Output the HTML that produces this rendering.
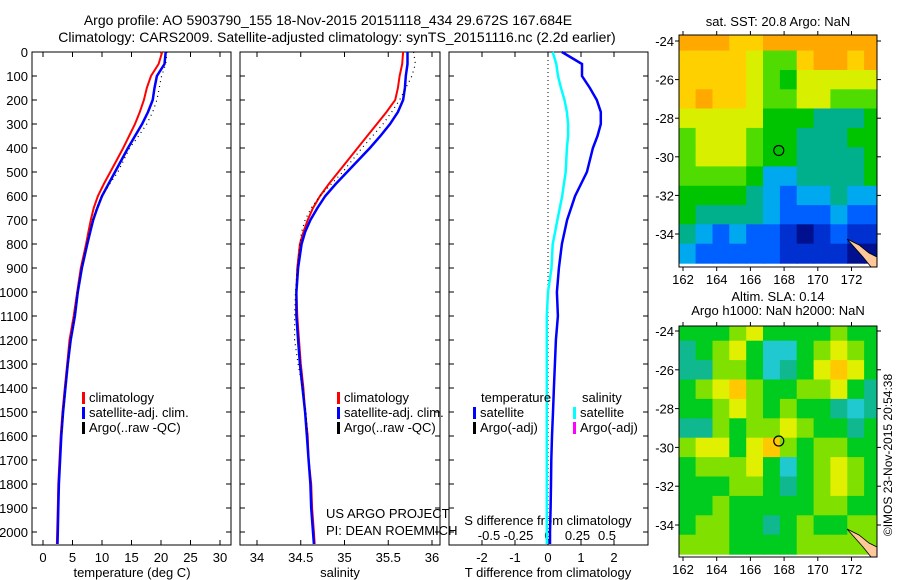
<!DOCTYPE html>
<html><head><meta charset="utf-8"><style>
body{margin:0;background:#fff;}
svg{display:block;font-family:"Liberation Sans",sans-serif;}
</style></head><body>
<svg id="fig" width="900" height="580" viewBox="0 0 900 580" xmlns="http://www.w3.org/2000/svg">
<rect width="900" height="580" fill="#fff"/>
<text x="328" y="25" font-size="14" text-anchor="middle">Argo profile: AO 5903790_155 18-Nov-2015 20151118_434 29.672S 167.684E</text>
<text x="337" y="42" font-size="14" text-anchor="middle">Climatology: CARS2009. Satellite-adjusted climatology: synTS_20151116.nc (2.2d earlier)</text>
<g id="g"></g>
</svg>
<script>
// ---- data ----
const depths=[0,50,100,150,200,250,300,350,400,450,500,550,600,650,700,750,800,900,1000,1100,1200,1300,1400,1500,1600,1700,1800,1900,2000,2050];
const tempClim=[20.2,19.6,18.3,17.6,17.1,16.4,15.6,14.6,13.6,12.5,11.4,10.3,9.3,8.6,8.1,7.7,7.3,6.4,5.8,5.2,4.5,4.1,3.7,3.3,3.0,2.8,2.6,2.5,2.4,2.35];
const tempSat=[20.8,20.6,19.3,18.9,18.6,17.8,16.8,15.6,14.4,13.3,12.2,11.1,10.0,9.2,8.5,8.0,7.5,6.6,5.9,5.4,4.7,4.2,3.8,3.4,3.1,2.9,2.7,2.6,2.5,2.45];
const argoDepths=[0,50,100,150,200,250,300,350,400,450,500,550,600,650,700,750,800,900,1000,1100,1200,1300,1400,1500,1600];
const tempArgo=[21.0,20.8,20.1,19.7,19.3,18.6,17.6,16.2,14.7,13.7,12.7,11.3,10.0,9.1,8.4,7.9,7.4,6.5,5.9,5.3,4.7,4.2,3.8,3.4,3.1];
const salClim=[35.67,35.66,35.63,35.61,35.58,35.48,35.37,35.26,35.15,35.04,34.93,34.82,34.72,34.64,34.58,34.53,34.49,34.46,34.45,34.46,34.48,34.50,34.53,34.55,34.58,34.59,34.62,34.63,34.65,34.66];
const salSat=[35.72,35.72,35.70,35.69,35.67,35.61,35.52,35.41,35.29,35.16,35.03,34.90,34.78,34.69,34.61,34.55,34.51,34.47,34.45,34.45,34.47,34.49,34.52,34.55,34.57,34.59,34.61,34.62,34.64,34.65];
const salArgo=[35.79,35.81,35.77,35.70,35.63,35.54,35.44,35.32,35.20,35.09,34.98,34.85,34.72,34.62,34.55,34.51,34.49,34.46,34.44,34.43,34.43,34.47,34.52,34.56,34.58];
const tDiff=[0.42,1.03,1.03,1.27,1.48,1.6,1.6,1.5,1.36,1.27,1.18,1.0,0.82,0.7,0.58,0.5,0.42,0.33,0.27,0.3,0.24,0.21,0.18,0.15,0.12,0.1,0.09,0.08,0.06,0.06];
const sDiff=[0.04,0.07,0.085,0.11,0.14,0.16,0.17,0.17,0.16,0.155,0.15,0.135,0.12,0.1,0.08,0.06,0.04,0.03,0.0,-0.01,-0.01,-0.01,-0.01,-0.01,-0.01,-0.01,-0.01,-0.01,-0.01,-0.01];
const depthTicks=[0,100,200,300,400,500,600,700,800,900,1000,1100,1200,1300,1400,1500,1600,1700,1800,1900,2000];
const tempTicks=[0,5,10,15,20,25,30];
const salTicks=[34,34.5,35,35.5,36];
const salTickLabels=["34","34.5","35","35.5","36"];
const tdTicks=[-2,-1,0,1,2];
const sdTicks=[-0.5,-0.25,0,0.25,0.5];
const sdTickLabels=["-0.5","-0.25","0","0.25","0.5"];
const lonTicks=[162,164,166,168,170,172];
const latTicks=[-24,-26,-28,-30,-32,-34];
const sstGrid=[
"999889999999A",
"8888766899899",
"8888765777777",
"8988766776666",
"7777755544455",
"6777655444555",
"6777655444455",
"6666533444455",
"5555432334333",
"5444432223222",
"4323221012111",
"3222221111000"];
const slaGrid=[
"5556755556555",
"4567533567655",
"4466534578755",
"5678655667544",
"5567656554344",
"4465667655455",
"6775786566555",
"5666753567655",
"5556654567655",
"5565555566555",
"5665545655666",
"6665555666666"];
const argoLon=167.684, argoLat=-29.672;

// ---- helpers ----
const NS="http://www.w3.org/2000/svg";
const G=document.getElementById('g');
function mk(t,a,p){const e=document.createElementNS(NS,t);for(const k in a)e.setAttribute(k,a[k]);(p||G).appendChild(e);return e;}
const yD=d=>52+d*0.24;
const panels=[
 {x0:32,x1:231,f:v=>43+v*5.9,name:'temperature'},
 {x0:240,x1:440,f:v=>257+(v-34)*87.5,name:'salinity'},
 {x0:449,x1:648,f:v=>548+v*33,name:'tdiff'}
];
const sdX=v=>548+v*118;
panels.forEach((p,i)=>{
  const r=mk('rect',{x:p.x0,y:52,width:p.x1-p.x0,height:493,fill:'none',stroke:'#000','stroke-width':1});
  
  
  depthTicks.forEach(d=>{
    mk('line',{x1:p.x0,x2:p.x0+5,y1:yD(d),y2:yD(d),stroke:'#000'});
    mk('line',{x1:p.x1,x2:p.x1-5,y1:yD(d),y2:yD(d),stroke:'#000'});
  });
});
depthTicks.forEach(d=>{
  const t=mk('text',{x:28,y:yD(d)+5,'font-size':13,'text-anchor':'end'});
  t.textContent=d;
  
  
});
function xticks(vals,labels,f,yLab,top){
  vals.forEach((v,i)=>{
    const x=f(v);
    mk('line',{x1:x,x2:x,y1:545,y2:540,stroke:'#000'});
    if(top) mk('line',{x1:x,x2:x,y1:52,y2:57,stroke:'#000'});
    const t=mk('text',{x:x,y:yLab,'font-size':13,'text-anchor':'middle'});
    t.textContent=labels[i];
    
    
  });
}
xticks(tempTicks,tempTicks.map(String),panels[0].f,562,true);
xticks(salTicks,salTickLabels,panels[1].f,562,true);
xticks(tdTicks,tdTicks.map(String),panels[2].f,562,true);
sdTicks.forEach((v,i)=>{
  const t=mk('text',{x:sdX(v),y:540,'font-size':13,'text-anchor':'middle'});
  t.textContent=sdTickLabels[i];
  
  
});
function lab(txt,x,y,name,anchor){const t=mk('text',{x:x,y:y,'font-size':13,'text-anchor':anchor||'middle'});t.textContent=txt;return t;}
lab('temperature (deg C)',132,577,'temperature-axis-title');
lab('salinity',340,577,'salinity-axis-title');
lab('T difference from climatology',548,577,'t-diff-axis-title');
lab('S difference from climatology',548,525,'s-diff-axis-title');
lab('US ARGO PROJECT',326,518,'project-label','start');
lab('PI: DEAN ROEMMICH',326,535,'pi-label','start');

function line(xs,ds,f,col,w,name,dash){
  const pts=xs.map((v,i)=>f(v).toFixed(1)+','+yD(ds[i]).toFixed(1)).join(' ');
  const a={points:pts,fill:'none',stroke:col,'stroke-width':w};
  if(dash)a['stroke-dasharray']=dash;
  const e=mk('polyline',a);
  
  
}
const RED='#f00',BLUE='#0000ff',CY='#00ffff';
line(tempClim,depths,panels[0].f,RED,2,'temp-climatology-line');
line(tempSat,depths,panels[0].f,BLUE,2.5,'temp-satellite-line');
line(tempArgo,argoDepths,panels[0].f,'#000',1.2,'temp-argo-line','1 4');
line(salClim,depths,panels[1].f,RED,2,'sal-climatology-line');
line(salSat,depths,panels[1].f,BLUE,2.5,'sal-satellite-line');
line(salArgo,argoDepths,panels[1].f,'#000',1.2,'sal-argo-line','1 4');
mk('line',{x1:548,x2:548,y1:52,y2:545,stroke:'#000','stroke-dasharray':'1 3'});
line(sDiff,depths,sdX,CY,2.5,'s-diff-satellite-line');
line(tDiff,depths,panels[2].f,BLUE,2.5,'t-diff-satellite-line');

function legend(x,y,items,name){
  items.forEach((it,i)=>{
    const yy=y+i*15;
    mk('rect',{x:x,y:yy-10,width:3,height:12,fill:it[1]});
    lab(it[0],x+7,yy,name,'start');
  });
}
legend(82,402,[['climatology',RED],['satellite-adj. clim.',BLUE],['Argo(..raw -QC)','#000']],'temp-legend-entry');
legend(337,402,[['climatology',RED],['satellite-adj. clim.',BLUE],['Argo(..raw -QC)','#000']],'sal-legend-entry');
lab('temperature',481,402,'t-legend-header','start');
lab('salinity',582,402,'s-legend-header','start');
legend(473,417,[['satellite',BLUE],['Argo(-adj)','#000']],'t-diff-legend-entry');
legend(573,417,[['satellite',CY],['Argo(-adj)','#ff00ff']],'s-diff-legend-entry');

// ---- maps ----
const pal=['#00108f','#0030d0','#0060ff','#00a8f0','#00b08c','#00c400','#50dc00','#d8f000','#ffd000','#ffa800','#e87800'];
const palSLA=['#00008f','#0020c8','#0050ff','#20c8d0','#10b890','#00cc20','#80e000','#e0f000','#ffc800','#ff9000','#e86000'];
function drawMap(y0,y1,latTop,grid,palette,title,titleY,name){
  const x0=679,x1=877;
  const lx=lon=>683+(lon-162)*16.85;
  const ly=lat=>latTop+(-24-lat)*(((name==='sst')?193:194)/10);
  const gm=mk('g',{});
  
  
  const cp='clip'+name;
  const cpe=mk('clipPath',{id:cp},gm);mk('rect',{x:x0,y:y0,width:x1-x0,height:y1-y0},cpe);
  const cg=mk('g',{'clip-path':'url(#'+cp+')'},gm);
  grid.forEach((row,r)=>{
    for(let c=0;c<row.length;c++){
      const v=parseInt(row[c],16);
      const lat=-23.5-r, lon=161.75+c;
      const e=mk('rect',{x:lx(lon).toFixed(1),y:ly(lat).toFixed(1),width:17.5,height:20,fill:palette[v]},cg);
      
      
    }
  });
  mk('path',{d:`M${x1-30} ${y1-28} L${x1-18} ${y1-22} L${x1-8} ${y1-14} L${x1} ${y1-10} L${x1} ${y1} L${x1-6} ${y1} L${x1-14} ${y1-10} Z`,fill:'#ffc89a',stroke:'#000','stroke-width':0.8},cg);
  mk('rect',{x:x0,y:y0,width:x1-x0,height:y1-y0,fill:'none',stroke:'#000'},gm);
  lonTicks.forEach(l=>{
    const x=lx(l);
    mk('line',{x1:x,x2:x,y1:y0,y2:y0-4,stroke:'#000'},gm);
    mk('line',{x1:x,x2:x,y1:y1,y2:y1+4,stroke:'#000'},gm);
    const t=mk('text',{x:x,y:y1+17,'font-size':13,'text-anchor':'middle'},gm);t.textContent=l;
    
    
  });
  latTicks.forEach(l=>{
    const y=ly(l);
    mk('line',{x1:x0,x2:x0-4,y1:y,y2:y,stroke:'#000'},gm);
    mk('line',{x1:x1,x2:x1+4,y1:y,y2:y,stroke:'#000'},gm);
    const t=mk('text',{x:674,y:y+5,'font-size':13,'text-anchor':'end'},gm);t.textContent=l;
    
    
  });
  const c=mk('circle',{cx:lx(argoLon),cy:ly(argoLat),r:5,fill:'none',stroke:'#000','stroke-width':1.2},gm);
  
  
  title.forEach((tt,i)=>{const t=mk('text',{x:778,y:titleY+i*14,'font-size':13,'text-anchor':'middle'},gm);t.textContent=tt;
    
    });
}
drawMap(35,267,41,sstGrid,pal,['sat. SST: 20.8 Argo: NaN'],26,'sst');
drawMap(326,557,331,slaGrid,palSLA,['Altim. SLA: 0.14','Argo h1000: NaN h2000: NaN'],301,'sla');
const cr=mk('text',{x:892,y:455,'font-size':12,'text-anchor':'middle',transform:'rotate(-90 892 455)'});
cr.textContent='©IMOS 23-Nov-2015 20:54:38';


</script>
</body></html>
